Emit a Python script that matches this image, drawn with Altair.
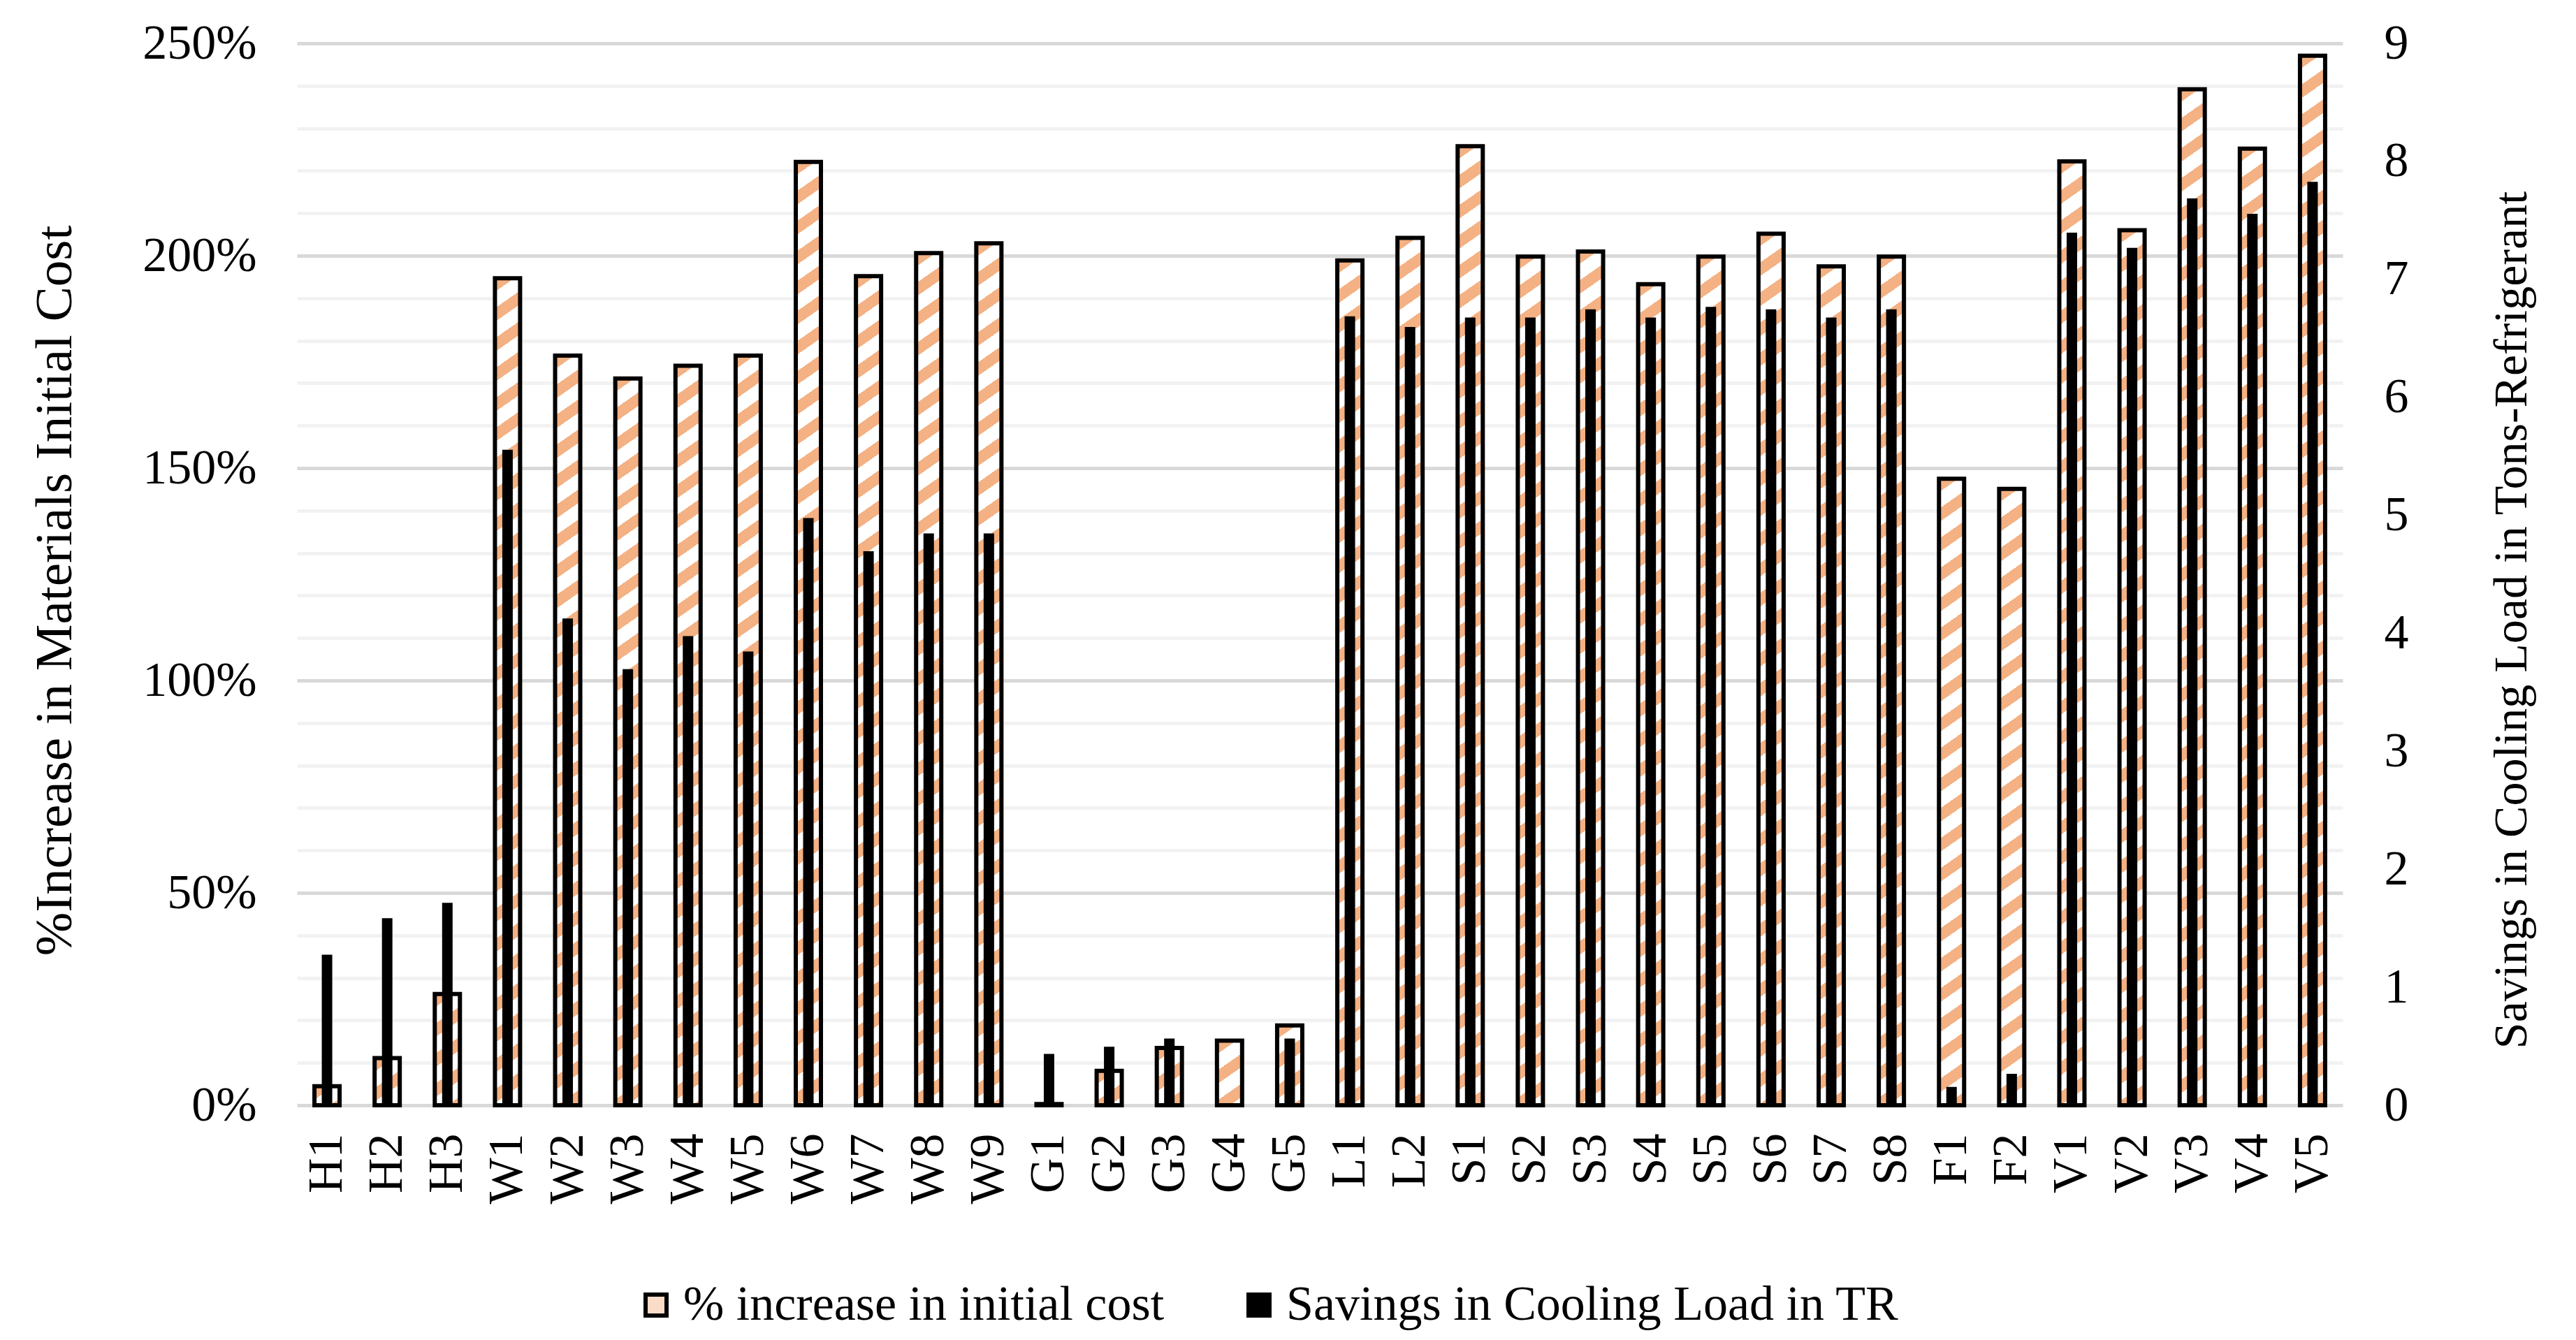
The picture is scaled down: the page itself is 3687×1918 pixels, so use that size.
import altair as alt
import pandas as pd

categories = ["H1", "H2", "H3",
              "W1", "W2", "W3", "W4", "W5", "W6", "W7", "W8", "W9",
              "G1", "G2", "G3", "G4", "G5",
              "L1", "L2",
              "S1", "S2", "S3", "S4", "S5", "S6", "S7", "S8",
              "F1", "F2",
              "V1", "V2", "V3", "V4", "V5"]

pct_increase = [4.5, 11.1, 26.2,
                194.7, 176.5, 171.1, 174.1, 176.5, 222.1, 195.2, 200.6, 202.9,
                0.3, 8.1, 13.5, 15.2, 18.8,
                198.9, 204.2,
                225.8, 199.8, 201.0, 193.3, 199.8, 205.2, 197.5, 199.8,
                147.5, 145.1,
                222.2, 206.0, 239.2, 225.2, 247.1]

tr_savings = [1.27, 1.58, 1.71,
              5.55, 4.12, 3.69, 3.97, 3.84, 4.97, 4.69, 4.84, 4.84,
              0.43, 0.49, 0.56, 0.0, 0.56,
              6.68, 6.59,
              6.67, 6.67, 6.74, 6.67, 6.76, 6.74, 6.67, 6.74,
              0.15, 0.26,
              7.39, 7.26, 7.68, 7.55, 7.82]

LEG1 = "% increase in initial cost"
LEG2 = "Savings in Cooling Load in TR"

W = 2928
H = 1520
BAR_W = 36
BLACK_W = 13
FONT = "Liberation Serif"
ORANGE = "#F4B183"


def hatch(value):
    h = max(value / 250.0 * H, 0.5)
    w = BAR_W
    s = 0.7
    period = 43.0
    frac = 0.45
    a = s * w / h
    vy = (1 + a) / (1 + a * a)
    vx = a * vy
    n = (h + s * w) / period
    stops = []
    k = 0
    while k / n < 1:
        o0 = round(k / n, 6)
        o1 = round(min((k + frac) / n, 1.0), 6)
        o2 = round(min((k + 1) / n, 1.0), 6)
        stops += [{"offset": o0, "color": ORANGE},
                  {"offset": o1, "color": ORANGE},
                  {"offset": o1, "color": "#FFFFFF"},
                  {"offset": o2, "color": "#FFFFFF"}]
        k += 1
    return {"gradient": "linear", "x1": 0, "y1": 0,
            "x2": round(vx, 6), "y2": round(vy, 6), "stops": stops}


df = pd.DataFrame({"cat": categories, "pct": pct_increase,
                   "tr": tr_savings, "series": LEG2})

x_enc = alt.X("cat:N",
              scale=alt.Scale(domain=categories, paddingInner=0, paddingOuter=0),
              axis=alt.Axis(title=None, labelAngle=270, labelAlign="right",
                            labelBaseline="middle", labelFont=FONT,
                            labelFontSize=70, labelColor="#000000",
                            labelPadding=40, ticks=False, domain=False,
                            grid=False, labelOverlap=False))

left_axis = alt.Axis(values=list(range(0, 251, 10)),
                     labelExpr="datum.value % 50 === 0 ? datum.value + '%' : ''",
                     grid=True,
                     gridColor={"condition": {"test": "datum.value % 50 === 0",
                                              "value": "#D9D9D9"},
                                "value": "#F2F2F2"},
                     gridWidth=5, ticks=False, domain=False,
                     labelFont=FONT, labelFontSize=70, labelColor="#000000",
                     labelPadding=58, labelOverlap=False,
                     title="%Increase in Materials Initial Cost",
                     titleFont=FONT, titleFontSize=75, titleFontWeight="normal",
                     titleColor="#000000", titleAngle=270, titleX=-347,
                     titleY=783, titleAlign="center", titleBaseline="middle")

right_axis = alt.Axis(orient="right", values=list(range(0, 10)), format="d",
                      grid=False, ticks=False, domain=False,
                      labelFont=FONT, labelFontSize=70, labelColor="#000000",
                      labelPadding=59, labelOverlap=False,
                      title="Savings in Cooling Load in Tons-Refrigerant",
                      titleFont=FONT, titleFontSize=68, titleFontWeight="normal",
                      titleColor="#000000", titleAngle=270, titleX=242,
                      titleY=825, titleAlign="center", titleBaseline="middle")

hatched_layers = []
for c, v in zip(categories, pct_increase):
    hatched_layers.append(
        alt.Chart()
        .transform_filter(alt.datum.cat == c)
        .mark_bar(size=BAR_W, fill=hatch(v), stroke="#000000", strokeWidth=6)
        .encode(x=x_enc,
                y=alt.Y("pct:Q", scale=alt.Scale(domain=[0, 250], nice=False),
                        axis=left_axis))
    )

hatched = alt.layer(*hatched_layers)

black = alt.Chart().mark_bar(size=BLACK_W, stroke="#000000", strokeWidth=2).encode(
    x=x_enc,
    y=alt.Y("tr:Q", scale=alt.Scale(domain=[0, 9], nice=False), axis=right_axis),
    color=alt.Color("series:N",
                    scale=alt.Scale(domain=[LEG1, LEG2],
                                    range=["#FBDCC8", "#000000"]),
                    legend=alt.Legend(title=None, orient="none", legendX=479,
                                      legendY=1771, direction="horizontal",
                                      symbolType="square", symbolSize=900,
                                      symbolStrokeColor="#000000",
                                      symbolStrokeWidth=6,
                                      labelFont=FONT, labelFontSize=70,
                                      labelColor="#000000", labelOffset=4,
                                      columnPadding=100, labelLimit=0)),
)

chart = (
    alt.layer(hatched, black, data=df)
    .resolve_scale(y="independent")
    .properties(width=W, height=H,
                padding={"left": 417, "top": 54, "right": 326, "bottom": 326},
                autosize=alt.AutoSizeParams(type="none"),
                background="white")
    .configure_view(stroke=None)
)

chart.save("out.html", embed_options={"renderer": "svg", "actions": False})
